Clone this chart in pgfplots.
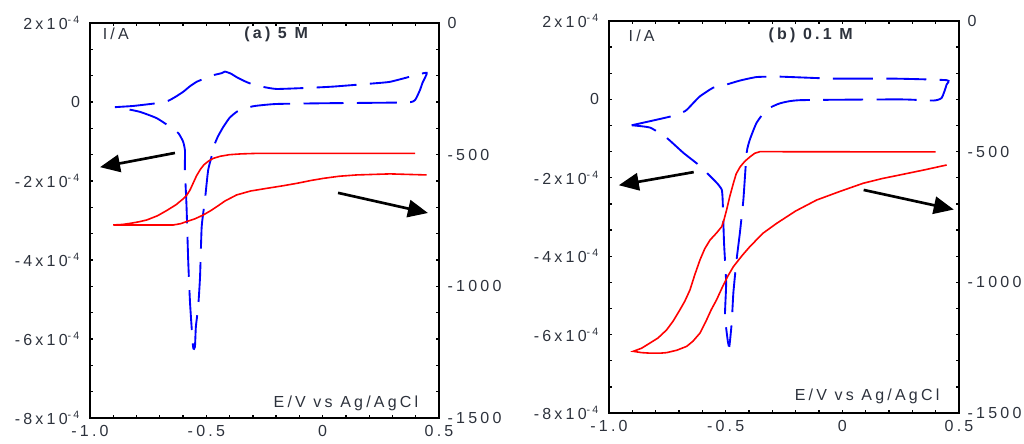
\documentclass[border=0pt]{standalone}
\usepackage{pgfplots}
\pgfplotsset{compat=1.18}
\usepackage{fontspec}
\setmainfont{Liberation Sans}[LetterSpace=20]
\usetikzlibrary{arrows.meta}

\definecolor{labgray}{RGB}{45,50,60}
\definecolor{cvblue}{RGB}{0,0,255}
\definecolor{cvred}{RGB}{255,0,0}

\tikzset{
  bigarrow/.style={line width=2pt, -{Triangle[length=15pt,width=13pt]}},
  labtext/.style={font=\fontsize{12}{13}\selectfont, text=labgray},
}

\pgfplotsset{
  cvleft/.style={
    scale only axis, width=261.75pt, height=296.25pt,
    xmin=-1, xmax=0.5, ymin=-8, ymax=2,
    xtick={-1,-0.5,0,0.5}, xticklabels={-1.0,-0.5,0,0.5}, minor x tick num=4,
    ytick={-8,-6,-4,-2,0,2},
    yticklabels={-8x10\textsuperscript{-4},-6x10\textsuperscript{-4},-4x10\textsuperscript{-4},-2x10\textsuperscript{-4},0,2x10\textsuperscript{-4}},
    minor y tick num=2,
    tick align=inside, major tick length=2.5pt, minor tick length=2.5pt,
    tick style={black, line width=1pt},
    axis line style={line width=1.5pt},
    ticklabel style={font=\fontsize{12}{13}\selectfont, text=labgray},
    xticklabel style={yshift=-2pt},
    yticklabel style={xshift=-4pt},
  },
  cvright/.style={
    scale only axis, width=261.75pt, height=296.25pt,
    xmin=-1, xmax=0.5, ymin=-1500, ymax=0,
    xtick=\empty, ytick={-1500,-1000,-500,0},
    yticklabels={-1500,-1000,-500,0},
    ytick pos=right, yticklabel pos=right,
    tick style={draw=none}, axis line style={draw=none},
    ticklabel style={font=\fontsize{12}{13}\selectfont, text=labgray},
    yticklabel style={xshift=3pt},
  },
  blueloop/.style={color=cvblue, line width=1.4pt, dash pattern=on 30pt off 10pt, no markers, smooth, tension=0.3},
  redloop/.style={color=cvred, line width=1.2pt, no markers},
}

\begin{document}
\begin{tikzpicture}
\useasboundingbox (0,0) rectangle (768pt,332.25pt);

% ---- panel (a) 5 M ----
\begin{axis}[cvleft, at={(67.5pt,18.75pt)}, anchor=south west]
\addplot[blueloop] coordinates {
(-0.893,-0.13) (-0.814,-0.10) (-0.713,-0.03) (-0.664,0.03) (-0.630,0.14) (-0.599,0.26)
(-0.570,0.40) (-0.542,0.51) (-0.510,0.59) (-0.484,0.66) (-0.434,0.73) (-0.420,0.77) (-0.395,0.72) (-0.370,0.63)
(-0.340,0.54) (-0.312,0.47) (-0.262,0.39) (-0.198,0.33) (-0.055,0.36) (0.045,0.39)
(0.217,0.47) (0.289,0.51) (0.375,0.64) (0.447,0.74)
(0.430,0.50) (0.418,0.30) (0.397,0.05) (0.361,-0.01) (0.031,-0.03) (-0.198,-0.05)
(-0.291,-0.10) (-0.335,-0.16) (-0.370,-0.25) (-0.400,-0.40) (-0.427,-0.63) (-0.450,-0.87) (-0.463,-1.05) (-0.470,-1.22)
(-0.492,-1.72) (-0.506,-2.48) (-0.520,-3.16) (-0.527,-4.42) (-0.535,-5.18)
(-0.545,-5.69) (-0.549,-6.20) (-0.557,-6.20) (-0.570,-5.09) (-0.578,-4.00)
(-0.585,-2.66) (-0.592,-1.72) (-0.592,-1.22) (-0.600,-1.00) (-0.620,-0.79)
(-0.656,-0.63) (-0.713,-0.41) (-0.785,-0.25) (-0.857,-0.16) (-0.893,-0.13)
};
\draw[bigarrow] (axis cs:-0.635,-1.29) -- (axis cs:-0.957,-1.65);
\draw[bigarrow] (axis cs:0.066,-2.30) -- (axis cs:0.4525,-2.81);
\node[labtext, anchor=west] at (axis cs:-0.965,1.72) {I/A};
\node[labtext, font=\fontsize{12}{13}\selectfont\bfseries] at (axis cs:-0.2,1.7) {(a) 5 M};
\node[labtext, anchor=east] at (axis cs:0.431,-7.62) {E/V vs Ag/AgCl};
\end{axis}
\begin{axis}[cvright, at={(67.5pt,18.75pt)}, anchor=south west]
\addplot[redloop] coordinates {
(0.397,-495) (-0.280,-495) (-0.350,-497) (-0.400,-500) (-0.440,-506) (-0.470,-514)
(-0.490,-524) (-0.510,-538) (-0.525,-555) (-0.542,-580) (-0.555,-605) (-0.570,-634)
(-0.585,-655) (-0.600,-668) (-0.630,-690) (-0.670,-712) (-0.710,-732) (-0.756,-748)
(-0.790,-755) (-0.828,-761) (-0.860,-765) (-0.900,-767)
(-0.642,-767) (-0.610,-762) (-0.585,-754) (-0.550,-744) (-0.513,-729) (-0.480,-712)
(-0.456,-698) (-0.420,-676) (-0.370,-653) (-0.310,-638) (-0.241,-628) (-0.170,-618)
(-0.112,-609) (-0.050,-598) (0.003,-590) (0.070,-582) (0.146,-577) (0.289,-573) (0.447,-577)
};
\end{axis}

% ---- panel (b) 0.1 M ----
\begin{axis}[cvleft, at={(456.75pt,22.5pt)}, anchor=south west, width=262.5pt, height=294pt]
\addplot[blueloop] coordinates {
(-0.903,-0.66) (-0.739,-0.44) (-0.674,-0.30) (-0.640,-0.10) (-0.610,0.08) (-0.553,0.30)
(-0.496,0.38) (-0.439,0.48) (-0.367,0.57) (-0.267,0.58) (-0.039,0.53)
(0.219,0.53) (0.447,0.49) (0.447,0.38)
(0.426,0.04) (0.390,-0.03) (0.247,0.00) (-0.181,-0.02) (-0.267,-0.10)
(-0.324,-0.26) (-0.367,-0.59) (-0.396,-1.02) (-0.410,-1.36) (-0.424,-2.55)
(-0.439,-3.40) (-0.453,-4.08) (-0.467,-4.93) (-0.474,-5.69) (-0.484,-6.29)
(-0.490,-6.20) (-0.503,-5.53) (-0.498,-4.68) (-0.507,-3.66) (-0.513,-2.55)
(-0.517,-2.30) (-0.535,-2.15) (-0.553,-2.04) (-0.610,-1.70) (-0.682,-1.36) (-0.753,-0.98)
(-0.824,-0.72) (-0.903,-0.66)
};
\draw[bigarrow] (axis cs:-0.637,-1.855) -- (axis cs:-0.958,-2.19);
\draw[bigarrow] (axis cs:0.0914,-2.31) -- (axis cs:0.4775,-2.81);
\node[labtext, anchor=west] at (axis cs:-0.936,1.63) {I/A};
\node[labtext, font=\fontsize{12}{13}\selectfont\bfseries] at (axis cs:-0.136,1.63) {(b) 0.1 M};
\node[labtext, anchor=east] at (axis cs:0.436,-7.58) {E/V vs Ag/AgCl};
\end{axis}
\begin{axis}[cvright, at={(456.75pt,22.5pt)}, anchor=south west, width=262.5pt, height=294pt]
\addplot[redloop] coordinates {
(0.400,-501) (-0.353,-500) (-0.375,-506) (-0.396,-520) (-0.418,-537) (-0.438,-558)
(-0.455,-585) (-0.467,-621) (-0.482,-670) (-0.496,-723) (-0.507,-760) (-0.517,-787)
(-0.540,-812) (-0.567,-838) (-0.590,-872) (-0.610,-914) (-0.632,-970) (-0.653,-1029)
(-0.675,-1072) (-0.696,-1105) (-0.725,-1148) (-0.753,-1182) (-0.790,-1213)
(-0.824,-1232) (-0.860,-1252) (-0.896,-1264)
(-0.860,-1269) (-0.824,-1271) (-0.780,-1271) (-0.753,-1269) (-0.710,-1260)
(-0.667,-1245) (-0.640,-1225) (-0.610,-1194) (-0.585,-1150) (-0.562,-1105)
(-0.539,-1067) (-0.515,-1020) (-0.490,-975) (-0.467,-940) (-0.430,-898)
(-0.396,-863) (-0.340,-812) (-0.281,-774) (-0.200,-727) (-0.110,-685)
(-0.010,-652) (0.089,-621) (0.170,-603) (0.247,-589) (0.350,-570) (0.447,-551)
};
\end{axis}
\end{tikzpicture}
\end{document}
